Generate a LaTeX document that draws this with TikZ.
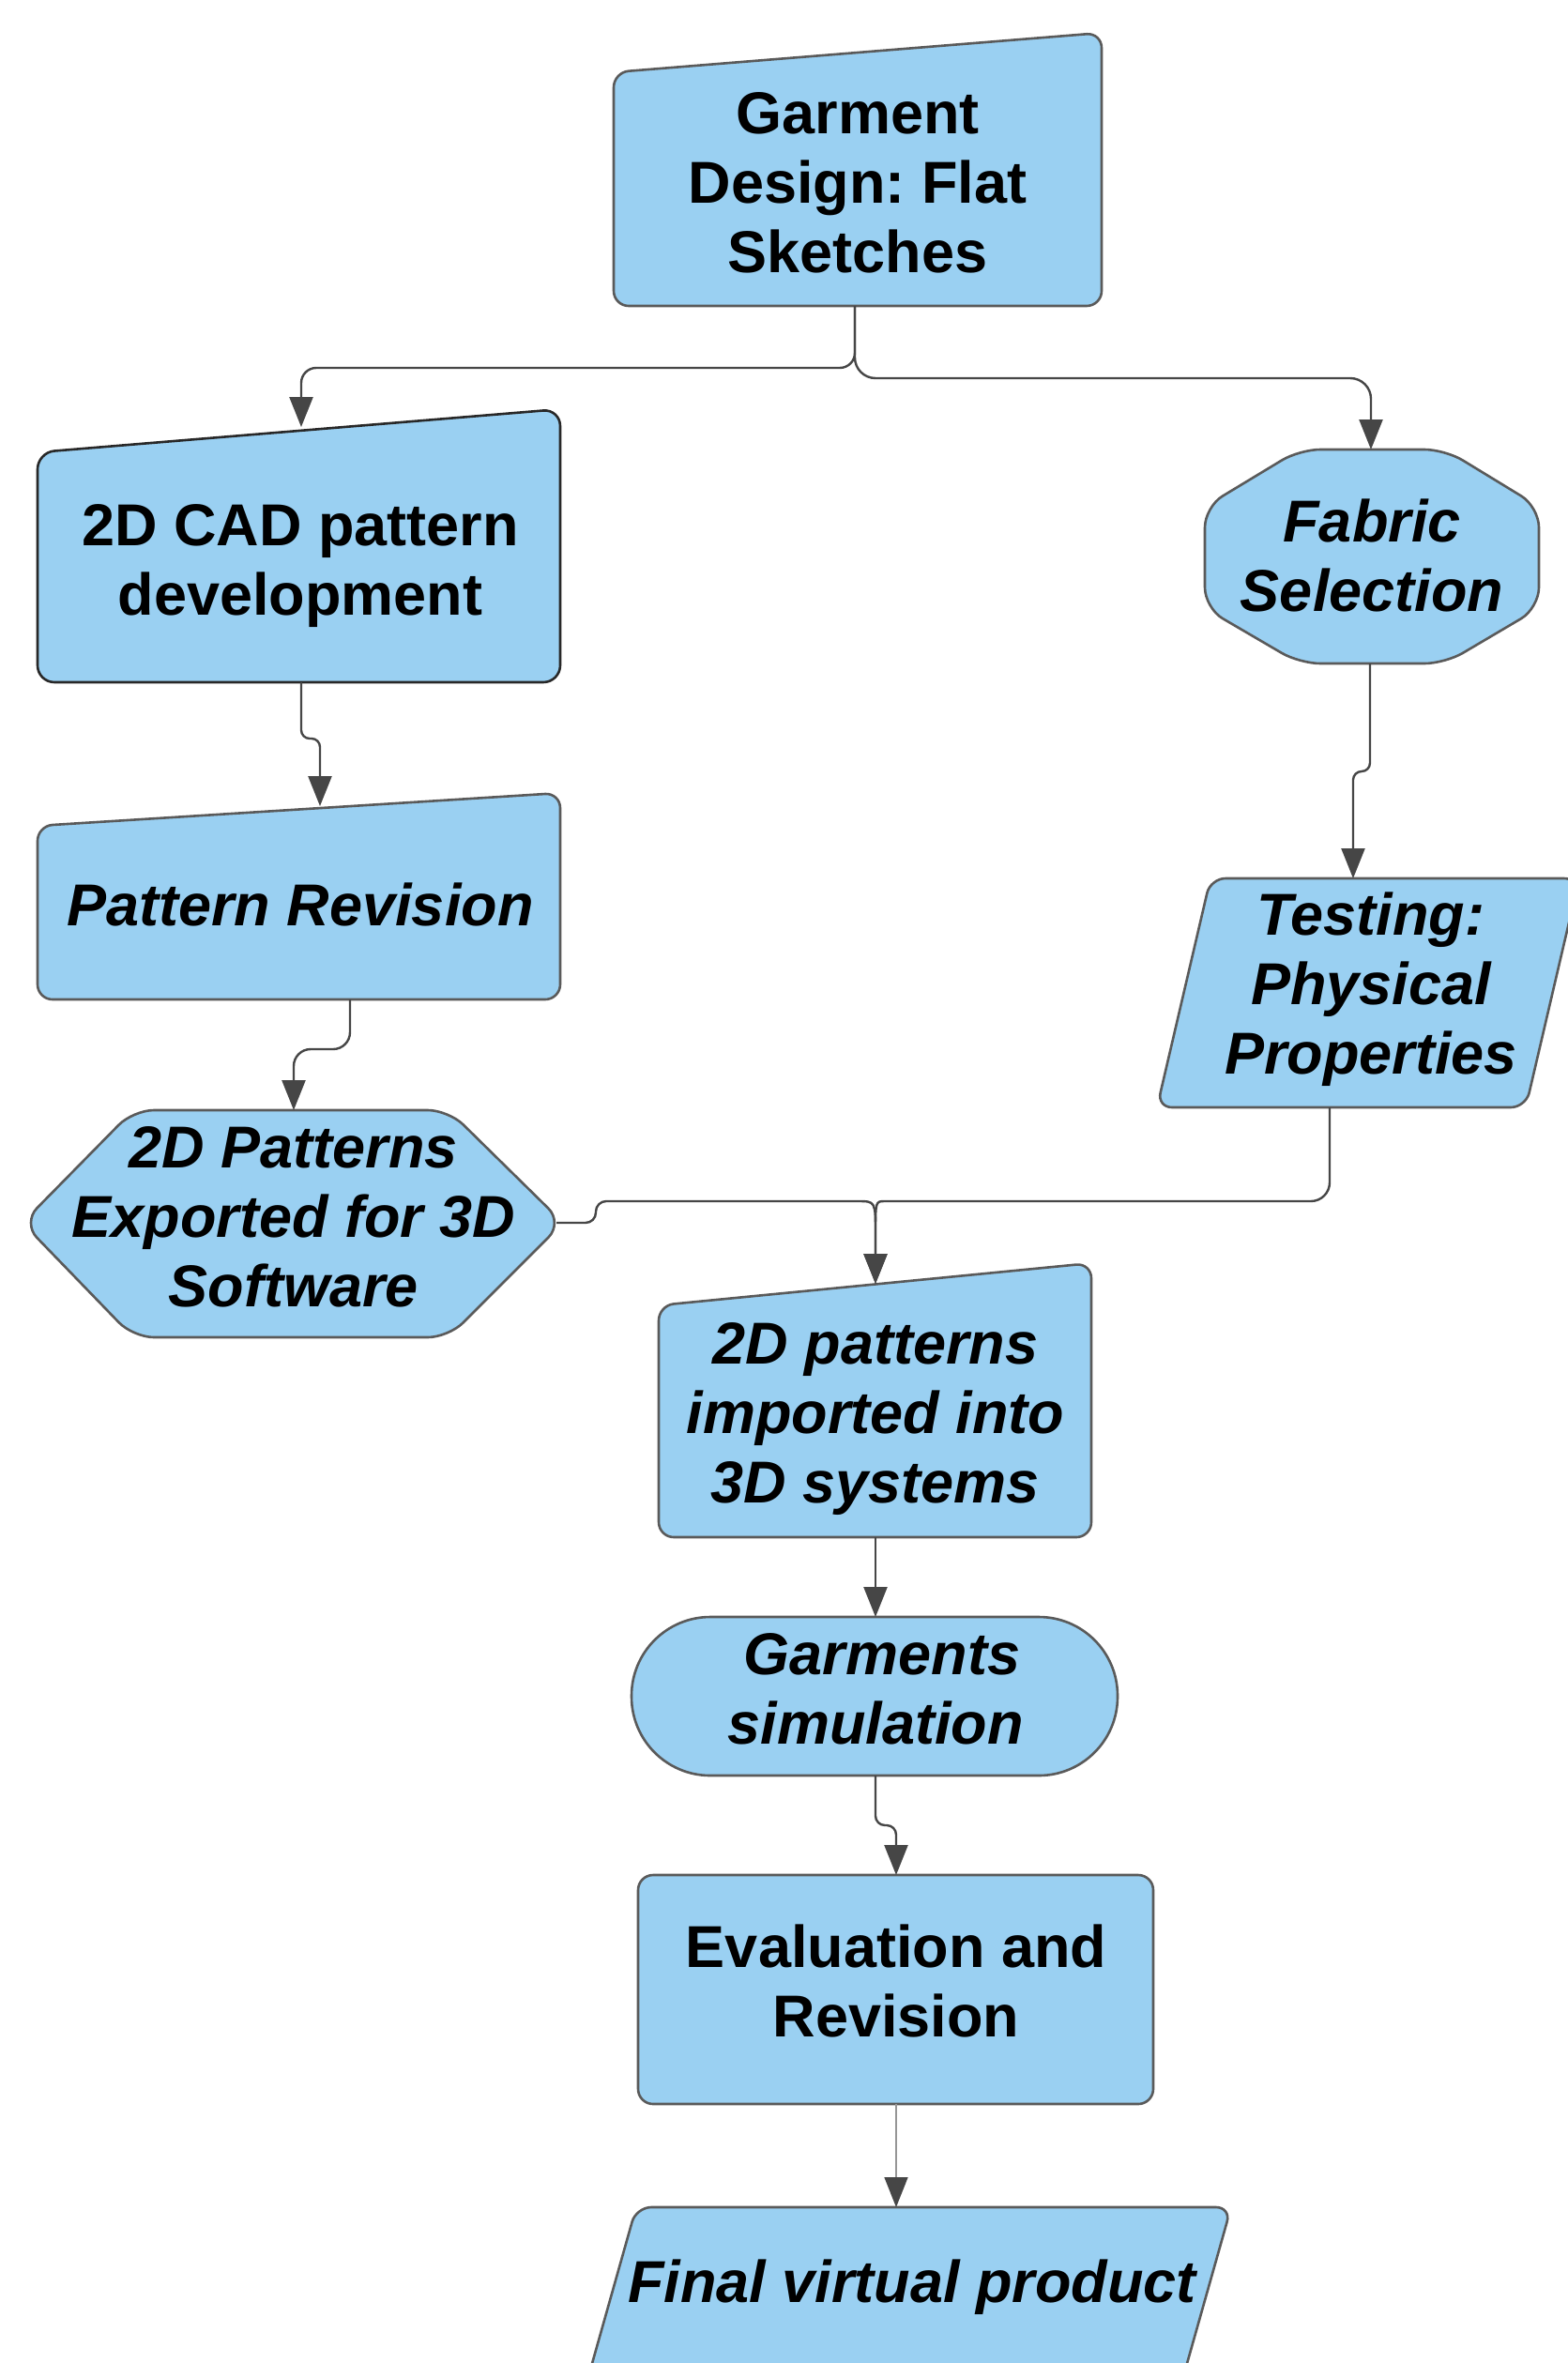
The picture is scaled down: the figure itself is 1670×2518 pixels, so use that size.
\documentclass[tikz,border=0pt]{standalone}
\usepackage{fontspec}
\setmainfont{Liberation Sans}
\usetikzlibrary{arrows.meta}
\definecolor{boxfill}{RGB}{154,208,242}
\definecolor{boxline}{RGB}{90,90,90}
\definecolor{darkline}{RGB}{40,40,40}
\definecolor{conncol}{RGB}{70,70,70}
\definecolor{lightconn}{RGB}{150,150,150}
\frenchspacing
\begin{document}
\begin{tikzpicture}[x=1pt,y=-1pt,
  shapebox/.style={fill=boxfill,draw=boxline,line width=2.6pt,rounded corners=16pt},
  lbl/.style={align=center,font=\fontsize{63}{74}\selectfont\bfseries,inner sep=0pt},
  ilbl/.style={align=center,font=\fontsize{63}{74}\selectfont\bfseries\itshape,inner sep=0pt},
  conn/.style={draw=conncol,line width=2.4pt},
  arr/.style={conn,-{Triangle[length=32pt,width=25pt,color=conncol]}}]
\useasboundingbox (0,0) rectangle (1670,2518);

% ---- shapes ----
\path[shapebox] (654,77) -- (1174,35) -- (1174,326) -- (654,326) -- cycle;
\path[shapebox,draw=darkline,rounded corners=18pt] (40,482) -- (597,436) -- (597,727) -- (40,727) -- cycle;
\path[shapebox,rounded corners=22pt] (1385,479) -- (1540,479) -- (1640,540) -- (1640,648) -- (1540,707) -- (1385,707) -- (1284,648) -- (1284,540) -- cycle;
\path[shapebox] (40,880) -- (597,845) -- (597,1065) -- (40,1065) -- cycle;
\path[shapebox] (1290,936) -- (1683,936) -- (1626,1180) -- (1233,1180) -- cycle;
\path[shapebox,rounded corners=22pt] (142,1183) -- (478,1183) -- (600,1303) -- (478,1425) -- (142,1425) -- (24,1303) -- cycle;
\path[shapebox] (702,1391) -- (1163,1346) -- (1163,1638) -- (702,1638) -- cycle;
\path[shapebox,rounded corners=84pt] (673,1723) rectangle (1191,1892);
\path[shapebox] (680,1998) rectangle (1229,2242);
\path[shapebox] (678,2352) -- (1312,2352) -- (1242,2600) -- (608,2600) -- cycle;

% ---- labels ----
\node[lbl]  (garment) at (914,195) {Garment\\Design: Flat\\Sketches};
\node[lbl]  (cad)     at (320,603) {2D CAD pattern\\development};
\node[ilbl] (fabric)  at (1462,592) {Fabric\\Selection};
\node[ilbl] (revis)   at (320,964) {Pattern Revision};
\node[ilbl] (testing) at (1461,1054) {Testing:\\Physical\\Properties};
\node[ilbl] (export)  at (313,1297) {2D Patterns\\Exported for 3D\\Software};
\node[ilbl] (import)  at (933,1512) {2D patterns\\imported into\\3D systems};
\node[ilbl] (sim)     at (933,1800) {\hspace*{14pt}Garments\\simulation};
\node[lbl]  (eval)    at (955,2111) {Evaluation and\\Revision};
\node[ilbl] (final)   at (972,2437) {Final virtual product};

% ---- anchor points on the shapes ----
\coordinate (gdB)  at (911,326);
\coordinate (cadT) at (321,455);
\coordinate (cadB) at (321,727);
\coordinate (fabT) at (1461,479);
\coordinate (fabB) at (1460,707);
\coordinate (revT) at (341,859);
\coordinate (revB) at (373,1065);
\coordinate (tstT) at (1442,936);
\coordinate (tstB) at (1417,1180);
\coordinate (hexT) at (313,1183);
\coordinate (hexR) at (593,1303);
\coordinate (impT) at (933,1368);
\coordinate (impB) at (933,1638);
\coordinate (simT) at (933,1723);
\coordinate (simB) at (933,1892);
\coordinate (evT)  at (955,1998);
\coordinate (evB)  at (955,2242);
\coordinate (finT) at (955,2352);

% ---- connectors ----
\draw[arr,rounded corners=16pt] (gdB) -- (911,392) -| (cadT);
\draw[arr,rounded corners=22pt] (gdB) -- (911,403) -| (fabT);
\draw[arr,rounded corners=9pt] (cadB) -- (321,787) -- (341,787) -- (revT);
\draw[arr,rounded corners=18pt] (revB) -- (373,1118) -- (313,1118) -- (hexT);
\draw[arr,rounded corners=9pt] (fabB) -- (1460,822) -- (1442,822) -- (tstT);
\draw[arr,rounded corners=11pt] (hexR) -- (635,1303) -- (635,1280) -- (903,1280) [sharp corners] .. controls (933,1280) .. (933,1315) -- (impT);
\draw[arr,rounded corners=20pt] (tstB) -- (1417,1280) -- (963,1280) [sharp corners] .. controls (933,1280) .. (933,1315) -- (impT);
\draw[arr] (impB) -- (simT);
\draw[arr,rounded corners=10pt] (simB) -- (933,1945) -- (955,1945) -- (evT);
\draw[arr,draw=lightconn,line width=1.6pt] (evB) -- (finT);
\end{tikzpicture}
\end{document}
